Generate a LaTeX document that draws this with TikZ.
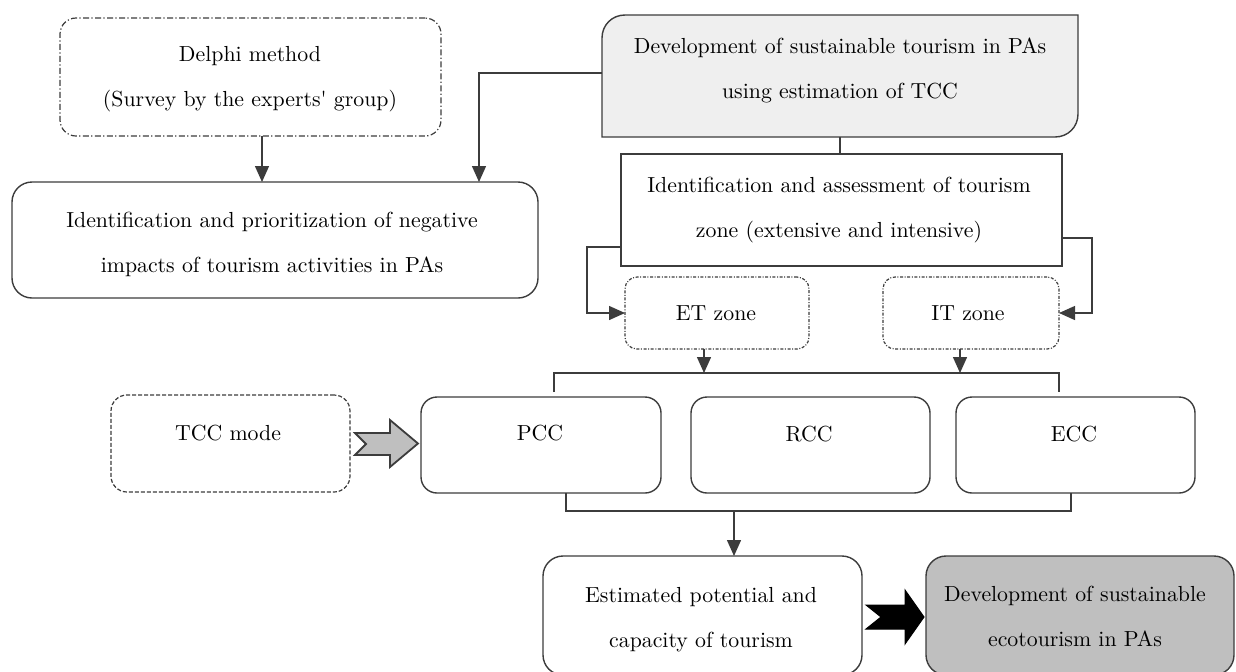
\documentclass[tikz,border=0pt]{standalone}
\usetikzlibrary{arrows.meta,calc}
\definecolor{ln}{HTML}{3C3C3C}
\definecolor{palegray}{HTML}{EFEFEF}
\definecolor{midgray}{HTML}{BFBFBF}
\begin{document}
\begin{tikzpicture}[x=0.5pt,y=-0.5pt,
  font=\fontsize{10.9}{22.5}\selectfont,
  every node/.style={inner sep=0pt, outer sep=0pt},
  boxline/.style={draw=ln, line width=0.7pt},
  rbox/.style={boxline, rounded corners=9pt},
  dashdotbox/.style={draw=ln, line width=0.6pt, rounded corners=8pt, dash pattern=on 3pt off 1.2pt on 0.6pt off 1.2pt},
  zonebox/.style={draw=ln, line width=0.6pt, rounded corners=6pt, dash pattern=on 1.5pt off 0.8pt on 0.5pt off 0.8pt},
  dashbox/.style={draw=ln, line width=0.6pt, rounded corners=8pt, dash pattern=on 2pt off 1pt},
  txt/.style={align=center, text=black},
  conn/.style={draw=ln, line width=0.7pt},
  arr/.style={conn, -{Triangle[length=8pt,width=7pt]}},
]
\useasboundingbox (0,0) rectangle (1236,671);

% ---- boxes ----
\node[dashdotbox, minimum width=190.5pt, minimum height=59pt] (delphi) at (250.5,77) {};
\node[txt] (delphit) at (250,79.5) {Delphi method\\(Survey by the experts\textquotesingle\ group)};

\node[rbox, rounded corners=10pt, minimum width=263pt, minimum height=58pt] (impact) at (275,240) {};
\node[txt] (impactt) at (272,244) {Identification and prioritization of negative\\impacts of tourism activities in PAs};

\node[minimum width=238pt, minimum height=61pt] (dev) at (840,76) {};
\draw[boxline, fill=palegray] (602,137) -- (602,38) .. controls (602,25) and (612,15) .. (625,15) -- (1078,15) -- (1078,114) .. controls (1078,127) and (1068,137) .. (1055,137) -- cycle;
\node[txt] (devt) at (840,70) {Development of sustainable tourism in PAs\\using estimation of TCC};

\node[boxline, minimum width=220.5pt, minimum height=56pt] (assess) at (841.5,210) {};
\node[txt] (assesst) at (839,210) {Identification and assessment of tourism\\zone (extensive and intensive)};

\node[zonebox, minimum width=92pt, minimum height=36pt] (et) at (717,313) {};
\node[txt] (ett) at (716,313) {ET zone};
\node[zonebox, minimum width=88pt, minimum height=36pt] (it) at (971,313) {};
\node[txt] (itt) at (968,313) {IT zone};

\node[dashbox, minimum width=119.5pt, minimum height=48.5pt] (tcc) at (230.5,443.5) {};
\node[txt] (tcct) at (228,433) {TCC mode};

\node[rbox, rounded corners=8pt, minimum width=120pt, minimum height=48pt] (pcc) at (541,445) {};
\node[txt] (pcct) at (540,433) {PCC};
\node[rbox, rounded corners=8pt, minimum width=119.5pt, minimum height=48pt] (rcc) at (810.5,445) {};
\node[txt] (rcct) at (809,434) {RCC};
\node[rbox, rounded corners=8pt, minimum width=119.5pt, minimum height=48pt] (ecc) at (1075.5,445) {};
\node[txt] (ecct) at (1074,434) {ECC};

\node[rbox, rounded corners=10pt, minimum width=159.5pt, minimum height=59.5pt] (est) at (702.5,615.5) {};
\node[txt] (estt) at (701,620) {Estimated potential and\\capacity of tourism};

\node[rbox, rounded corners=10pt, fill=midgray, minimum width=154pt, minimum height=59.5pt] (eco) at (1080,615.5) {};
\node[txt] (ecot) at (1075,616) {Development of sustainable\\ecotourism in PAs};

% ---- connectors ----
\draw[arr] ([xshift=5.75pt]delphi.south) -- ([xshift=5.75pt]delphi.south |- impact.north);
\draw[arr] ([yshift=1.5pt]dev.west) -| ([xshift=102pt]impact.north);
\draw[conn] (dev.south) -- (dev.south |- assess.north);
\draw[arr] ([yshift=-18.5pt]assess.west) -- ++(-17pt,0) |- (et.west);
\draw[arr] ([yshift=-14pt]assess.east) -- ++(15pt,0) |- (it.east);

% top bracket
\draw[conn] ([xshift=6.5pt,yshift=2.5pt]pcc.north) -- ++(0,9.5pt) -| ([xshift=-8.25pt,yshift=2.5pt]ecc.north);
\draw[arr] ([xshift=-6.5pt]et.south) -- ++(0,-12pt);
\draw[arr] ([xshift=-5.5pt]it.south) -- ++(0,-12pt);

% bottom bracket
\draw[conn] ([xshift=12.5pt]pcc.south) -- ++(0,-9pt) -| ([xshift=-2.25pt]ecc.south);
\draw[arr] ([xshift=15.75pt,yshift=22.5pt]est.north) -- ([xshift=15.75pt]est.north);

% block arrows
\draw[draw=ln, line width=0.9pt, fill=midgray, line join=miter]
  (355,433) -- (390,433) -- (390,420) -- (418,443.5) -- (390,467) -- (390,455) -- (355,455) -- (366,444) -- cycle;
\draw[draw=black, line width=0.5pt, fill=black, line join=miter]
  (866,605) -- (905,605) -- (905,590) -- (924,617) -- (905,644) -- (905,629) -- (866,629) -- (881,617) -- cycle;
\end{tikzpicture}
\end{document}
